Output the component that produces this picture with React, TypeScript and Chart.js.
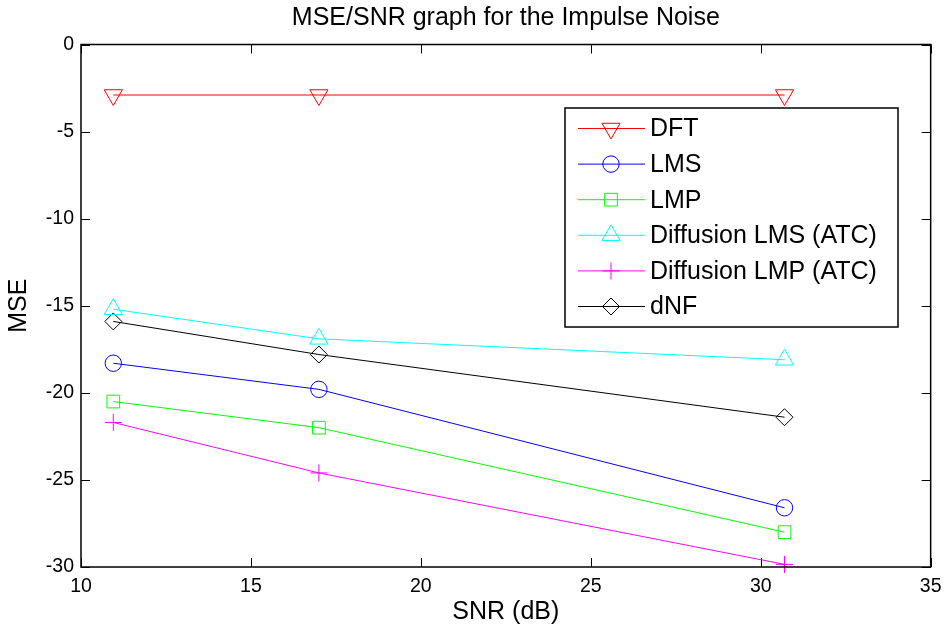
import React, { useEffect, useRef } from 'react';
import { Chart, registerables } from 'chart.js';
import { drawPoint } from 'chart.js/helpers';

Chart.register(...registerables);

// ---- data ----
const snrValues = [10.95, 17, 30.7];
const dftMse = [-2.9, -2.9, -2.9];
const lmsMse = [-18.3, -19.8, -26.6];
const lmpMse = [-20.5, -22.0, -28.0];
const diffLmsMse = [-15.2, -16.9, -18.1];
const diffLmpMse = [-21.7, -24.6, -29.85];
const dnfMse = [-15.9, -17.8, -21.4];

const seriesNames = ['DFT', 'LMS', 'LMP', 'Diffusion LMS (ATC)', 'Diffusion LMP (ATC)', 'dNF'];
const seriesValues = [dftMse, lmsMse, lmpMse, diffLmsMse, diffLmpMse, dnfMse];

const xTicks = [10, 15, 20, 25, 30, 35];
const yTicks = [0, -5, -10, -15, -20, -25, -30];

const titleText = 'MSE/SNR graph for the Impulse Noise';
const xLabel = 'SNR (dB)';
const yLabel = 'MSE';

// ---- styles ----
const FONT = "'Liberation Sans', Arial, sans-serif";
const colors = ['#ff0000', '#0000ff', '#00ff00', '#00ffff', '#ff00ff', '#000000'];
const markers = [
  { style: 'triangle', rotation: 180, radius: 10.5 },
  { style: 'circle', rotation: 0, radius: 8.2 },
  { style: 'rect', rotation: 0, radius: 9 },
  { style: 'triangle', rotation: 0, radius: 10.5 },
  { style: 'cross', rotation: 0, radius: 8.5 },
  { style: 'rectRot', rotation: 0, radius: 8.5 },
];

const frameAndTicks = {
  id: 'frameAndTicks',
  afterDatasetsDraw(chart: any) {
    const { ctx, chartArea } = chart;
    const { left, right, top, bottom } = chartArea;
    const xs = chart.scales.x;
    const ys = chart.scales.y;
    ctx.save();
    ctx.strokeStyle = '#000';
    ctx.lineWidth = 1;
    const tl = 9;
    ctx.beginPath();
    xTicks.forEach((v) => {
      const px = Math.round(xs.getPixelForValue(v)) + 0.5;
      ctx.moveTo(px, bottom);
      ctx.lineTo(px, bottom - tl);
      ctx.moveTo(px, top);
      ctx.lineTo(px, top + tl);
    });
    yTicks.forEach((v) => {
      const py = Math.round(ys.getPixelForValue(v)) + 0.5;
      ctx.moveTo(left, py);
      ctx.lineTo(left + tl, py);
      ctx.moveTo(right, py);
      ctx.lineTo(right - tl, py);
    });
    ctx.stroke();
    ctx.lineWidth = 1.5;
    ctx.strokeRect(left, top, right - left, bottom - top);
    // title centred over the plot area
    ctx.fillStyle = '#000';
    ctx.font = `25px ${FONT}`;
    ctx.textAlign = 'center';
    ctx.textBaseline = 'middle';
    ctx.fillText(titleText, (left + right) / 2, top - 26.5);
    ctx.restore();
  },
};

const insideLegend = {
  id: 'insideLegend',
  afterDraw(chart: any) {
    const { ctx } = chart;
    const bx = 565;
    const by = 108;
    const bw = 333;
    const bh = 219;
    ctx.save();
    ctx.fillStyle = '#fff';
    ctx.fillRect(bx, by, bw, bh);
    ctx.strokeStyle = '#000';
    ctx.lineWidth = 1.5;
    ctx.strokeRect(bx, by, bw, bh);
    chart.data.datasets.forEach((ds: any, i: number) => {
      const cy = 128.5 + i * 35.6;
      ctx.strokeStyle = ds.borderColor;
      ctx.lineWidth = 1;
      ctx.beginPath();
      ctx.moveTo(bx + 13, cy);
      ctx.lineTo(bx + 80, cy);
      ctx.stroke();
      ctx.fillStyle = 'rgba(0,0,0,0)';
      drawPoint(ctx, {
        pointStyle: ds.pointStyle,
        rotation: ds.pointRotation,
        radius: ds.pointRadius,
        borderWidth: 1,
      } as any, bx + 46, cy);
      ctx.fillStyle = '#000';
      ctx.font = `25px ${FONT}`;
      ctx.textAlign = 'left';
      ctx.textBaseline = 'middle';
      ctx.fillText(ds.label, bx + 85, cy + 1);
    });
    ctx.restore();
  },
};

export default function App() {
  const canvasRef = useRef<HTMLCanvasElement | null>(null);

  useEffect(() => {
    document.body.style.margin = '0';
    const canvas = canvasRef.current;
    if (!canvas) return;
    const datasets = seriesNames.map((name, i) => ({
      label: name,
      data: snrValues.map((x, j) => ({ x, y: seriesValues[i][j] })),
      borderColor: colors[i],
      backgroundColor: 'rgba(0,0,0,0)',
      borderWidth: 1,
      showLine: true,
      pointStyle: markers[i].style,
      pointRotation: markers[i].rotation,
      pointRadius: markers[i].radius,
      pointBorderWidth: 1,
      pointBorderColor: colors[i],
      pointBackgroundColor: 'rgba(0,0,0,0)',
      tension: 0,
      clip: false,
    }));

    const chart = new Chart(canvas, {
      type: 'scatter',
      data: { datasets } as any,
      options: {
        responsive: false,
        animation: false,
        devicePixelRatio: 1,
        layout: { padding: { left: 0, right: 13, top: 44.5, bottom: 0 } },
        plugins: {
          legend: { display: false },
          tooltip: { enabled: false },
          title: { display: false },
        },
        scales: {
          x: {
            type: 'linear',
            min: xTicks[0],
            max: xTicks[xTicks.length - 1],
            grid: { display: false, drawTicks: false },
            border: { display: false },
            ticks: {
              stepSize: 5,
              color: '#000',
              padding: 7.5,
              font: { family: FONT, size: 19.5 },
              maxRotation: 0,
            },
            title: {
              display: true,
              text: xLabel,
              color: '#000',
              font: { family: FONT, size: 25 },
              padding: { top: 0, bottom: 1 },
            },
            afterFit(scale: any) {
              scale.height = 61;
            },
          },
          y: {
            type: 'linear',
            min: yTicks[yTicks.length - 1],
            max: yTicks[0],
            grid: { display: false, drawTicks: false },
            border: { display: false },
            ticks: {
              stepSize: 5,
              color: '#000',
              padding: 7,
              font: { family: FONT, size: 19.5 },
            },
            title: {
              display: true,
              text: yLabel,
              color: '#000',
              font: { family: FONT, size: 25 },
              padding: { top: 4, bottom: 0 },
            },
            afterFit(scale: any) {
              scale.width = 81;
            },
          },
        },
      } as any,
      plugins: [frameAndTicks, insideLegend],
    });
    return () => chart.destroy();
  }, []);

  return (
    <div style={{ width: 949, height: 628, background: '#fff' }}>
      <canvas ref={canvasRef} width={949} height={628} />
    </div>
  );
}
